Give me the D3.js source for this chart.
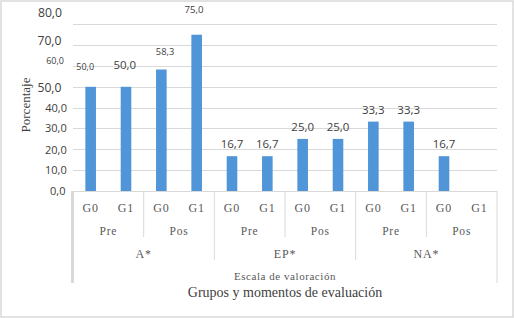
<!DOCTYPE html>
<html><head><meta charset="utf-8">
<script src="https://cdn.jsdelivr.net/npm/d3@7"></script>
<style>
html,body{margin:0;padding:0;background:#fff;}
svg{display:block;}
</style></head>
<body>
<script>
// ---- data ----
const scales = ["A*", "EP*", "NA*"];
const moments = ["Pre", "Pos"];
const groups = ["G0", "G1"];
const values = [50.0, 50.0, 58.3, 75.0, 16.7, 16.7, 25.0, 25.0, 33.3, 33.3, 16.7, null];
const yTicks = [0, 10, 20, 30, 40, 50, 60, 70, 80];
const yTitle = "Porcentaje";
const xSubTitle = "Escala de valoración";
const xTitle = "Grupos y momentos de evaluación";

// ---- build categories ----
const cats = [];
scales.forEach(s => moments.forEach(m => groups.forEach(g => cats.push({s, m, g}))));
cats.forEach((c, i) => { c.id = i; c.v = values[i]; });

const W = 514, H = 318;
const svg = d3.select("body").append("svg").attr("width", W).attr("height", H);

svg.append("rect").attr("x", 1).attr("y", 1).attr("width", W - 2).attr("height", H - 2)
  .attr("fill", "#fff").attr("stroke", "#d9d9d9").attr("stroke-width", 1.5);

const x0 = 73, x1 = 497, yTop = 24.3, yBot = 191;
const x = d3.scaleBand().domain(cats.map(c => c.id)).range([x0, x1]).paddingInner(0.7).paddingOuter(0.35);
const y = d3.scaleLinear().domain([0, 80]).range([yBot, yTop]);

const sans = "'Open Sans', 'Liberation Sans', sans-serif";
const serif = "'Liberation Serif', 'Times New Roman', serif";

// gridlines
svg.append("g").selectAll("line").data(yTicks).join("line")
  .attr("x1", x0).attr("x2", x1)
  .attr("y1", d => Math.round(y(d)) + 0.5).attr("y2", d => Math.round(y(d)) + 0.5)
  .attr("stroke", "#d9d9d9").attr("stroke-width", 1.2);

// y tick labels (with the reference's individual placements)
const tickStyle = {
  80: {x: 62, dy: -11.5, size: 12.2}, 70: {x: 61.5, dy: -4.5, size: 12.2},
  60: {x: 64, dy: -5, size: 9}, 50: {x: 61.5, dy: 0.5, size: 12.2},
  40: {x: 67, dy: 0.5, size: 11}, 30: {x: 66.7, dy: 0, size: 11},
  20: {x: 66.7, dy: 0.5, size: 11}, 10: {x: 66.7, dy: 0, size: 11},
  0: {x: 65.5, dy: 0.5, size: 11}
};
const fmt = v => d3.format(".1f")(v).replace(".", ",");
svg.append("g").selectAll("text").data(yTicks).join("text")
  .attr("x", d => tickStyle[d].x).attr("y", d => y(d) + tickStyle[d].dy)
  .attr("dy", "0.35em").attr("text-anchor", "end")
  .attr("font-family", sans).attr("font-size", d => tickStyle[d].size)
  .attr("fill", "#404040").text(d => fmt(d));

// bars
svg.append("g").selectAll("rect").data(cats.filter(c => c.v != null)).join("rect")
  .attr("x", c => x(c.id)).attr("width", x.bandwidth())
  .attr("y", c => y(c.v)).attr("height", c => y(0) - y(c.v))
  .attr("fill", "#4f95d7");

// data labels
const labelStyle = {
  0: {dx: -5.5, top: 66.5, size: 9}, 1: {dx: -1.2, top: 65, size: 11.5},
  2: {dx: 3.7, top: 52, size: 9.3}, 3: {dx: -2.7, top: 9.5, size: 9.7}
};
svg.append("g").selectAll("text").data(cats.filter(c => c.v != null)).join("text")
  .attr("x", c => x(c.id) + x.bandwidth() / 2 + (labelStyle[c.id] ? labelStyle[c.id].dx : 0))
  .attr("y", c => labelStyle[c.id] ? labelStyle[c.id].top : y(c.v) - 12)
  .attr("dy", "0.35em").attr("text-anchor", "middle")
  .attr("font-family", sans)
  .attr("font-size", c => labelStyle[c.id] ? labelStyle[c.id].size : 11.5)
  .attr("fill", "#404040").text(c => fmt(c.v));

// category axis
const step = x.step();
const edge = i => x0 + i * step; // boundary before category i
const sepColor = "#d9d9d9";
const ax = svg.append("g");
// inner moment separators
[2, 6, 10].forEach(i => ax.append("line").attr("x1", edge(i)).attr("x2", edge(i))
  .attr("y1", 192).attr("y2", 237).attr("stroke", sepColor).attr("stroke-width", 1));
// scale separators
[4, 8].forEach(i => ax.append("line").attr("x1", edge(i)).attr("x2", edge(i))
  .attr("y1", 192).attr("y2", 260).attr("stroke", sepColor).attr("stroke-width", 1));
// outer edges
ax.append("line").attr("x1", x0 - 0.5).attr("x2", x0 - 0.5).attr("y1", 191).attr("y2", 283)
  .attr("stroke", sepColor).attr("stroke-width", 3);
ax.append("line").attr("x1", x1).attr("x2", x1).attr("y1", 191).attr("y2", 283)
  .attr("stroke", sepColor).attr("stroke-width", 1);

const catFill = "#595959";
ax.selectAll("text.g").data(cats).join("text").attr("class", "g")
  .attr("x", c => x(c.id) + x.bandwidth() / 2).attr("y", 207.5).attr("dy", "0.35em")
  .attr("text-anchor", "middle").attr("font-family", serif).attr("font-size", 12)
  .attr("letter-spacing", 0.8).attr("fill", catFill).text(c => c.g);

const momentCells = [];
scales.forEach((s, si) => moments.forEach((m, mi) => momentCells.push({m, start: si * 4 + mi * 2})));
ax.selectAll("text.m").data(momentCells).join("text").attr("class", "m")
  .attr("x", d => edge(d.start) + step).attr("y", 231).attr("dy", "0.35em")
  .attr("text-anchor", "middle").attr("font-family", serif).attr("font-size", 11.5)
  .attr("letter-spacing", 0.8).attr("fill", catFill).text(d => d.m);

ax.selectAll("text.s").data(scales).join("text").attr("class", "s")
  .attr("x", (d, i) => edge(i * 4) + 2 * step).attr("y", 253.5).attr("dy", "0.35em")
  .attr("text-anchor", "middle").attr("font-family", serif).attr("font-size", 12)
  .attr("letter-spacing", 0.8).attr("fill", catFill).text(d => d);

svg.append("text").attr("x", (x0 + x1) / 2).attr("y", 276.5).attr("dy", "0.35em")
  .attr("text-anchor", "middle").attr("font-family", serif).attr("font-size", 11)
  .attr("letter-spacing", 0.55).attr("fill", catFill).text(xSubTitle);

svg.append("text").attr("x", (x0 + x1) / 2).attr("y", 292.5).attr("dy", "0.35em")
  .attr("text-anchor", "middle").attr("font-family", serif).attr("font-size", 14)
  .attr("fill", "#404040").text(xTitle);

svg.append("text").attr("transform", "translate(25,105) rotate(-90)").attr("dy", "0.35em")
  .attr("text-anchor", "middle").attr("font-family", serif).attr("font-size", 13)
  .attr("fill", "#404040").text(yTitle);
</script>
</body></html>
